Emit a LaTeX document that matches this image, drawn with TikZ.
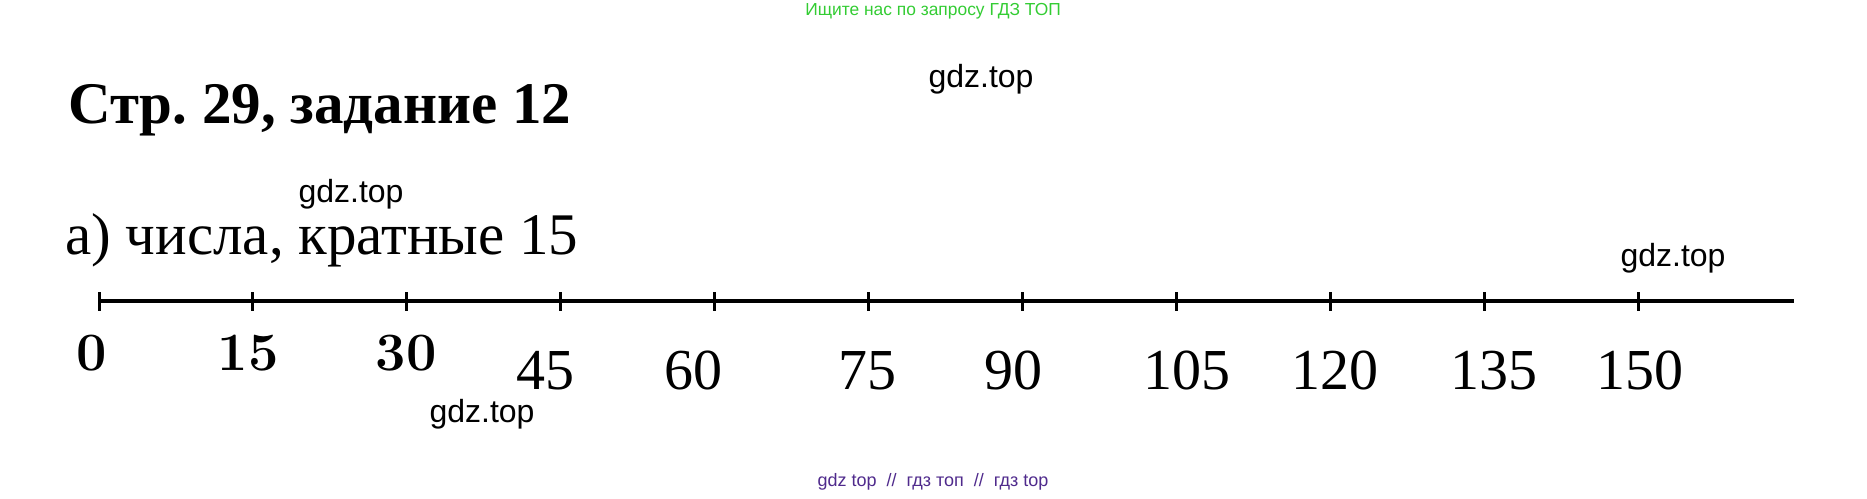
\documentclass[tikz,border=0pt]{standalone}
\usepackage{fontspec}
\newfontfamily\timesfont{Liberation Serif}
\newfontfamily\wmfont{Liberation Sans}
\usetikzlibrary{positioning}
\definecolor{wmgreen}{HTML}{33CC33}
\definecolor{wmpurple}{HTML}{4F2A8C}
\frenchspacing

\begin{document}
\begin{tikzpicture}[x=0.5pt,y=-0.5pt,
      wm/.style={font=\wmfont\fontsize{16}{18}\selectfont,inner sep=0pt},
      hd/.style={font=\timesfont\bfseries\fontsize{29.5}{34}\selectfont,inner sep=0pt,anchor=base west},
      txt/.style={font=\timesfont\fontsize{29.5}{33}\selectfont,inner sep=0pt,anchor=base west},
      num/.style={font=\timesfont\fontsize{29}{32}\selectfont,inner sep=0pt,anchor=base},
      bnum/.style={font=\bfseries\fontsize{27}{30}\selectfont,inner sep=0pt,anchor=base},
      axis/.style={line width=2.4pt},
      tk/.style={line width=1.5pt}]
    \useasboundingbox (0,0) rectangle (1867,498);
    \node[wm,text=wmgreen,font=\wmfont\fontsize{8.7}{10}\selectfont](top) at (933,11) {Ищите нас по запросу ГДЗ ТОП};
    \node[hd](title) at (68,123) {Стр. 29, задание 12};
    \node[txt](task) at (65,254) {а) числа, кратные 15};
    % axis and ticks
    \coordinate (aend) at (1794,301);
    \foreach \i in {0,...,10}
      \coordinate (t\i) at ({99+153.9*\i},301);
    \draw[axis](t0)--(aend);
    \foreach \i in {0,...,10}
      \draw[tk](t\i) ++(0,-9) -- ++(0,19);
    \foreach \v/\lx in {0/92,15/248,30/406}
      \node[bnum](l\v) at (\lx,370) {\v};
    \foreach \v/\lx in {45/545,60/693,75/867,90/1013,105/1187,120/1335,135/1494,150/1640}
      \node[num](l\v) at (\lx,389) {\v};
    % watermarks
    \node[wm](w1) at (981,79)  {gdz.top};
    \node[wm](w2) at (351,194) {gdz.top};
    \node[wm](w3) at (482,414) {gdz.top};
    \node[wm](w4) at (1673,258) {gdz.top};
    \node[wm,text=wmpurple,font=\wmfont\fontsize{9}{10}\selectfont](bot) at (933,482)
      {gdz top\ \ //\ \ гдз топ\ \ //\ \ гдз top};
  \end{tikzpicture}
\end{document}
